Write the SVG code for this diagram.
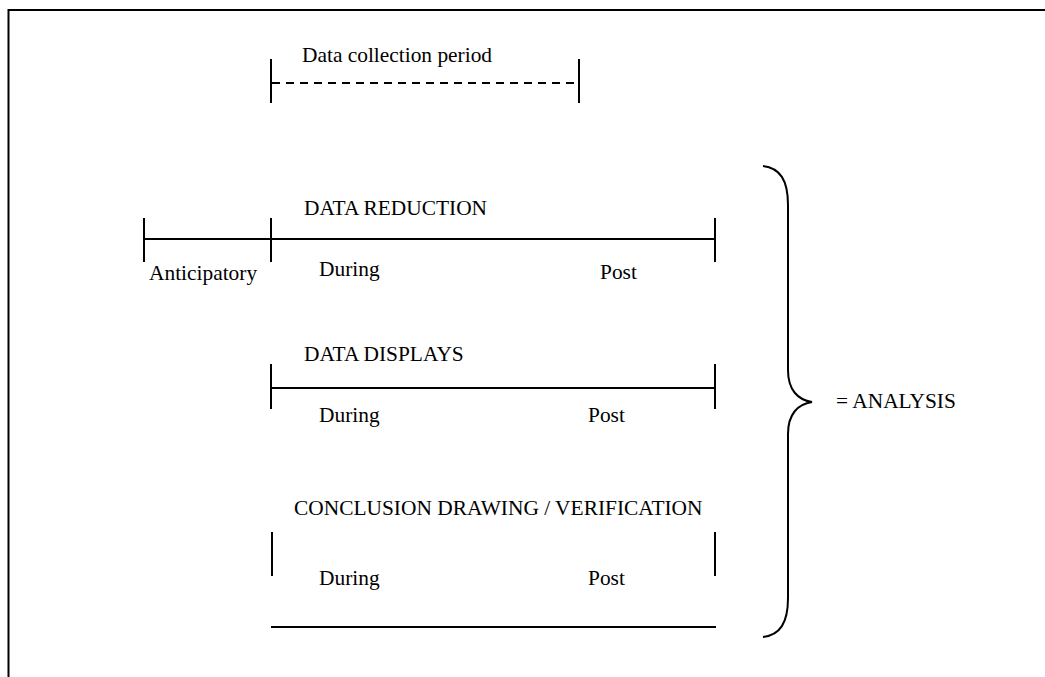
<svg xmlns="http://www.w3.org/2000/svg" width="1045" height="677" viewBox="0 0 1045 677">
<style>
  .ln{stroke:#000;stroke-width:2;fill:none}
  .t{font-family:"Liberation Serif","Times New Roman",serif;font-size:21.4px;fill:#000}
</style>
<rect x="0" y="0" width="1045" height="677" fill="#fff"/>
<g id="frame"><path class="ln" d="M8.5 700 V10 H1060"/></g>
<g id="collection">
  <text class="t" x="302" y="62">Data collection period</text>
</g>
<g id="reduction">
  <text class="t" x="304" y="215">DATA REDUCTION</text>
  <text class="t" x="149" y="280">Anticipatory</text>
  <text class="t" x="319" y="276">During</text>
  <text class="t" x="600" y="279">Post</text>
</g>
<g id="displays">
  <text class="t" x="304" y="361">DATA DISPLAYS</text>
  <text class="t" x="319" y="422">During</text>
  <text class="t" x="588" y="422">Post</text>
</g>
<g id="conclusion">
  <text class="t" x="294" y="515">CONCLUSION DRAWING / VERIFICATION</text>
  <text class="t" x="319" y="585">During</text>
  <text class="t" x="588" y="585">Post</text>
</g>
<g id="analysis">
  <text class="t" x="836" y="408">= ANALYSIS</text>
</g>
<g id="connectors">
  <line class="ln" x1="271" y1="59" x2="271" y2="103"/>
  <line class="ln" x1="579" y1="59" x2="579" y2="103"/>
  <line class="ln" x1="272" y1="83" x2="578" y2="83" stroke-dasharray="8 6"/>
  <line class="ln" x1="144" y1="239" x2="715" y2="239"/>
  <line class="ln" x1="144" y1="218" x2="144" y2="262"/>
  <line class="ln" x1="271" y1="218" x2="271" y2="262"/>
  <line class="ln" x1="715" y1="218" x2="715" y2="262"/>
  <line class="ln" x1="271" y1="388" x2="715" y2="388"/>
  <line class="ln" x1="271" y1="364" x2="271" y2="409"/>
  <line class="ln" x1="715" y1="364" x2="715" y2="409"/>
  <line class="ln" x1="272" y1="532" x2="272" y2="576"/>
  <line class="ln" x1="715" y1="532" x2="715" y2="576"/>
  <line class="ln" x1="271" y1="627" x2="716" y2="627"/>
  <path class="ln" d="M763 166 C780 168 788 180 788 205 V370 C788 390 798 400 812 402 C798 404 788 414 788 434 V598 C788 623 780 635 763 637"/>
</g>
</svg>
